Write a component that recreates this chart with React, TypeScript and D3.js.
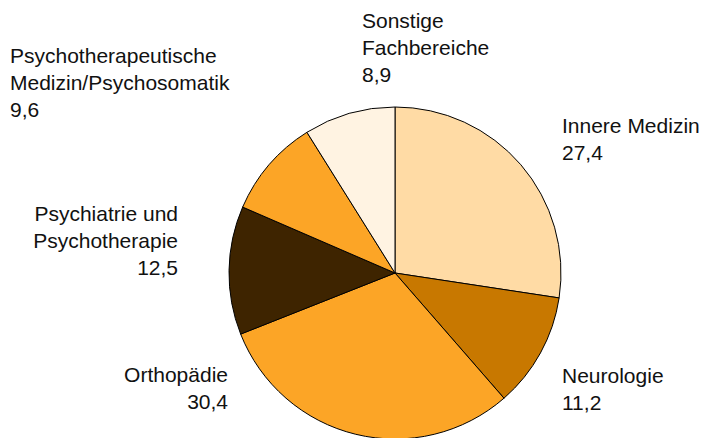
import { useEffect, useRef } from "react";
import * as d3 from "d3";

const categories = [
  "Innere Medizin",
  "Neurologie",
  "Orthopädie",
  "Psychiatrie und Psychotherapie",
  "Psychotherapeutische Medizin/Psychosomatik",
  "Sonstige Fachbereiche",
];
const shares = [27.4, 11.2, 30.4, 12.5, 9.6, 8.9];
const colors = ["#FFDBA5", "#C87800", "#FCA526", "#3E2400", "#FCA526", "#FFF3E2"];
const labelLines = [
  ["Innere Medizin"],
  ["Neurologie"],
  ["Orthopädie"],
  ["Psychiatrie und", "Psychotherapie"],
  ["Psychotherapeutische", "Medizin/Psychosomatik"],
  ["Sonstige", "Fachbereiche"],
];

// where each label block sits (x, first baseline, anchor)
const labelLayout = [
  { x: 562, y: 133, anchor: "start" },
  { x: 562, y: 383, anchor: "start" },
  { x: 228, y: 382, anchor: "end" },
  { x: 178, y: 221, anchor: "end" },
  { x: 10, y: 63, anchor: "start" },
  { x: 362, y: 28, anchor: "start" },
];

const W = 704;
const H = 438;

const PieChart = () => {
  const ref = useRef<SVGSVGElement | null>(null);

  useEffect(() => {
    const svg = d3.select(ref.current);
    svg.selectAll("*").remove();

    const cx = 395;
    const cy = 273;
    const radius = 166;
    const lineHeight = 27;

    const data = categories.map((c, i) => ({ name: c, value: shares[i], color: colors[i] }));

    const pie = d3.pie<any>().sort(null).value(d => d.value);
    const arc = d3.arc<any>().innerRadius(0).outerRadius(radius);

    const g = svg.append("g").attr("transform", `translate(${cx},${cy})`);

    g.selectAll("path")
      .data(pie(data))
      .enter()
      .append("path")
      .attr("d", arc)
      .attr("fill", d => d.data.color)
      .attr("stroke", "#000")
      .attr("stroke-width", 1);

    // labels
    const fmt = (v: number) => v.toFixed(1).replace(".", ",");
    data.forEach((d, i) => {
      const lay = labelLayout[i];
      const lines = [...labelLines[i], fmt(d.value)];
      const t = svg.append("text")
        .attr("text-anchor", lay.anchor)
        .attr("font-family", "'Liberation Sans', Arial, sans-serif")
        .attr("font-size", "21px")
        .attr("fill", "#111");
      lines.forEach((line, k) => {
        t.append("tspan")
          .attr("x", lay.x)
          .attr("y", lay.y + k * lineHeight)
          .text(line);
      });
    });
  }, []);

  return <svg ref={ref} width={W} height={H} style={{ display: "block", background: "#fff" }} />;
};

export default function App() {
  return (
    <div style={{ position: "fixed", left: 0, top: 0 }}>
      <PieChart />
    </div>
  );
}
